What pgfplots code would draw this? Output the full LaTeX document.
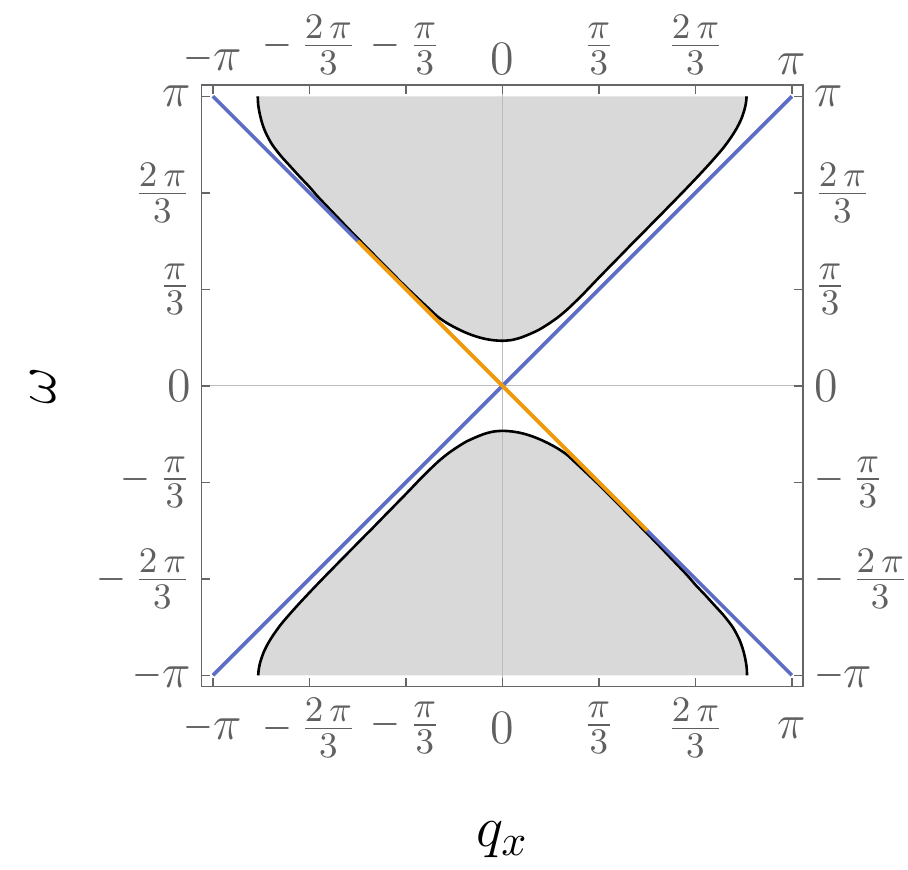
\documentclass[border=0pt]{standalone}
\usepackage{graphicx}
\usepackage{pgfplots}
\pgfplotsset{compat=1.18}
\definecolor{bandgray}{HTML}{D9D9D9}
\definecolor{lineblue}{HTML}{5D6DC6}
\definecolor{lineorange}{HTML}{EE9A0C}
\definecolor{framegray}{HTML}{666666}
\definecolor{labelgray}{HTML}{606060}
\definecolor{zerogray}{HTML}{BDBDBD}
\newcommand{\mneg}{\mbox{\scalebox{0.8}[1]{$-$}}}

\pgfplotsset{
  piframe/.style={
    width=150.4pt,height=150.4pt,scale only axis,
    xmin=-3.2642,xmax=3.2642,ymin=-3.2642,ymax=3.2642,
    axis line style={framegray,line width=0.4pt},
    xtick={-3.14159,-2.09440,-1.04720,0,1.04720,2.09440,3.14159},
    ytick={-3.14159,-2.09440,-1.04720,0,1.04720,2.09440,3.14159},
    xticklabels={$\mneg\pi$,$\mneg\,\frac{2\,\pi}{3}$,$\mneg\,\frac{\pi}{3}$,$0$,$\frac{\pi}{3}$,$\frac{2\,\pi}{3}$,$\pi$},
    yticklabels={$\mneg\pi$,$\mneg\,\frac{2\,\pi}{3}$,$\mneg\,\frac{\pi}{3}$,$0$,$\frac{\pi}{3}$,$\frac{2\,\pi}{3}$,$\pi$},
    tick style={framegray,line width=0.35pt},
    major tick length=2.2pt,
    tick align=inside,
    tick label style={text=labelgray,font=\fontsize{12.8}{15}\selectfont,inner sep=2.5pt},
    xticklabel style={inner xsep=0.5pt},
  }
}

\begin{document}
\begin{tikzpicture}
\begin{axis}[piframe,
  xticklabel style={anchor=center,yshift=-10.3pt},
  xlabel={$q_x$},ylabel={$\omega$},
  label style={font=\fontsize{15}{17}\selectfont},
  xlabel style={at={(axis description cs:0.5,0)},anchor=center,yshift=-38.3pt},
  ylabel style={at={(axis description cs:0,0.5)},anchor=center,yshift=39.7pt}]

% upper continuum
\addplot[fill=bandgray,draw=none] coordinates {
(-2.655,3.1416) (-2.650,3.05) (-2.635,2.96) (-2.61,2.86) (-2.57,2.75)
(-2.50,2.62) (-2.40,2.49) (-2.30,2.38) (-2.20,2.27) (-2.10,2.165)
(-2.00,2.05) (-1.90,1.945) (-1.80,1.84) (-1.70,1.735) (-1.60,1.632)
(-1.50,1.530) (-1.40,1.428) (-1.30,1.327) (-1.20,1.226) (-1.10,1.125)
(-1.00,1.028) (-0.90,0.933) (-0.80,0.840) (-0.70,0.748) (-0.60,0.680)
(-0.50,0.625) (-0.40,0.578) (-0.30,0.540) (-0.20,0.512) (-0.10,0.495)
(0.00,0.489) (0.10,0.497) (0.20,0.523) (0.30,0.563) (0.40,0.610)
(0.50,0.672) (0.60,0.742) (0.70,0.825) (0.80,0.920) (0.90,1.020)
(1.00,1.125) (1.10,1.228) (1.20,1.330) (1.30,1.432) (1.40,1.535)
(1.50,1.635) (1.60,1.737) (1.70,1.838) (1.80,1.940) (1.90,2.042)
(2.00,2.145) (2.10,2.250) (2.20,2.357) (2.30,2.468) (2.40,2.585)
(2.48,2.695) (2.54,2.790) (2.59,2.890) (2.625,2.990) (2.643,3.070)
(2.65,3.1416)};
% lower continuum
\addplot[fill=bandgray,draw=none] coordinates {
(2.655,-3.1416) (2.650,-3.05) (2.635,-2.96) (2.61,-2.86) (2.57,-2.75)
(2.50,-2.62) (2.40,-2.49) (2.30,-2.38) (2.20,-2.27) (2.10,-2.165)
(2.00,-2.05) (1.90,-1.945) (1.80,-1.84) (1.70,-1.735) (1.60,-1.632)
(1.50,-1.530) (1.40,-1.428) (1.30,-1.327) (1.20,-1.226) (1.10,-1.125)
(1.00,-1.028) (0.90,-0.933) (0.80,-0.840) (0.70,-0.748) (0.60,-0.680)
(0.50,-0.625) (0.40,-0.578) (0.30,-0.540) (0.20,-0.512) (0.10,-0.495)
(0.00,-0.489) (-0.10,-0.497) (-0.20,-0.523) (-0.30,-0.563) (-0.40,-0.610)
(-0.50,-0.672) (-0.60,-0.742) (-0.70,-0.825) (-0.80,-0.920) (-0.90,-1.020)
(-1.00,-1.125) (-1.10,-1.228) (-1.20,-1.330) (-1.30,-1.432) (-1.40,-1.535)
(-1.50,-1.635) (-1.60,-1.737) (-1.70,-1.838) (-1.80,-1.940) (-1.90,-2.042)
(-2.00,-2.145) (-2.10,-2.250) (-2.20,-2.357) (-2.30,-2.468) (-2.40,-2.585)
(-2.48,-2.695) (-2.54,-2.790) (-2.59,-2.890) (-2.625,-2.990) (-2.643,-3.070)
(-2.65,-3.1416)};

% axes through origin
\addplot[zerogray,line width=0.25pt] coordinates {(0,-3.2642) (0,3.2642)};
\addplot[zerogray,line width=0.25pt] coordinates {(-3.2642,0) (3.2642,0)};

% continuum edges
\addplot[black,line width=0.65pt,smooth] coordinates {
(-2.655,3.1416) (-2.650,3.05) (-2.635,2.96) (-2.61,2.86) (-2.57,2.75)
(-2.50,2.62) (-2.40,2.49) (-2.30,2.38) (-2.20,2.27) (-2.10,2.165)
(-2.00,2.05) (-1.90,1.945) (-1.80,1.84) (-1.70,1.735) (-1.60,1.632)
(-1.50,1.530) (-1.40,1.428) (-1.30,1.327) (-1.20,1.226) (-1.10,1.125)
(-1.00,1.028) (-0.90,0.933) (-0.80,0.840) (-0.70,0.748) (-0.60,0.680)
(-0.50,0.625) (-0.40,0.578) (-0.30,0.540) (-0.20,0.512) (-0.10,0.495)
(0.00,0.489) (0.10,0.497) (0.20,0.523) (0.30,0.563) (0.40,0.610)
(0.50,0.672) (0.60,0.742) (0.70,0.825) (0.80,0.920) (0.90,1.020)
(1.00,1.125) (1.10,1.228) (1.20,1.330) (1.30,1.432) (1.40,1.535)
(1.50,1.635) (1.60,1.737) (1.70,1.838) (1.80,1.940) (1.90,2.042)
(2.00,2.145) (2.10,2.250) (2.20,2.357) (2.30,2.468) (2.40,2.585)
(2.48,2.695) (2.54,2.790) (2.59,2.890) (2.625,2.990) (2.643,3.070)
(2.65,3.1416)};
\addplot[black,line width=0.65pt,smooth] coordinates {
(2.655,-3.1416) (2.650,-3.05) (2.635,-2.96) (2.61,-2.86) (2.57,-2.75)
(2.50,-2.62) (2.40,-2.49) (2.30,-2.38) (2.20,-2.27) (2.10,-2.165)
(2.00,-2.05) (1.90,-1.945) (1.80,-1.84) (1.70,-1.735) (1.60,-1.632)
(1.50,-1.530) (1.40,-1.428) (1.30,-1.327) (1.20,-1.226) (1.10,-1.125)
(1.00,-1.028) (0.90,-0.933) (0.80,-0.840) (0.70,-0.748) (0.60,-0.680)
(0.50,-0.625) (0.40,-0.578) (0.30,-0.540) (0.20,-0.512) (0.10,-0.495)
(0.00,-0.489) (-0.10,-0.497) (-0.20,-0.523) (-0.30,-0.563) (-0.40,-0.610)
(-0.50,-0.672) (-0.60,-0.742) (-0.70,-0.825) (-0.80,-0.920) (-0.90,-1.020)
(-1.00,-1.125) (-1.10,-1.228) (-1.20,-1.330) (-1.30,-1.432) (-1.40,-1.535)
(-1.50,-1.635) (-1.60,-1.737) (-1.70,-1.838) (-1.80,-1.940) (-1.90,-2.042)
(-2.00,-2.145) (-2.10,-2.250) (-2.20,-2.357) (-2.30,-2.468) (-2.40,-2.585)
(-2.48,-2.695) (-2.54,-2.790) (-2.59,-2.890) (-2.625,-2.990) (-2.643,-3.070)
(-2.65,-3.1416)};

% light-cone lines
\addplot[lineblue,line width=0.9pt] coordinates {(-3.1416,-3.1416) (3.1416,3.1416)};
\addplot[lineblue,line width=0.9pt] coordinates {(-3.1416,3.1416) (-1.5708,1.5708)};
\addplot[lineblue,line width=0.9pt] coordinates {(1.5708,-1.5708) (3.1416,-3.1416)};
\addplot[lineorange,line width=1pt] coordinates {(-1.5708,1.5708) (1.5708,-1.5708)};

\coordinate (SW) at (rel axis cs:0,0);
\coordinate (NE) at (rel axis cs:1,1);
\end{axis}
\begin{axis}[piframe,xticklabel pos=upper,yticklabel pos=right]
\end{axis}
\pgfresetboundingbox
\path ([shift={(-50.4pt,-45.8pt)}]SW) rectangle ([shift={(26.2pt,21.25pt)}]NE);
\end{tikzpicture}
\end{document}
